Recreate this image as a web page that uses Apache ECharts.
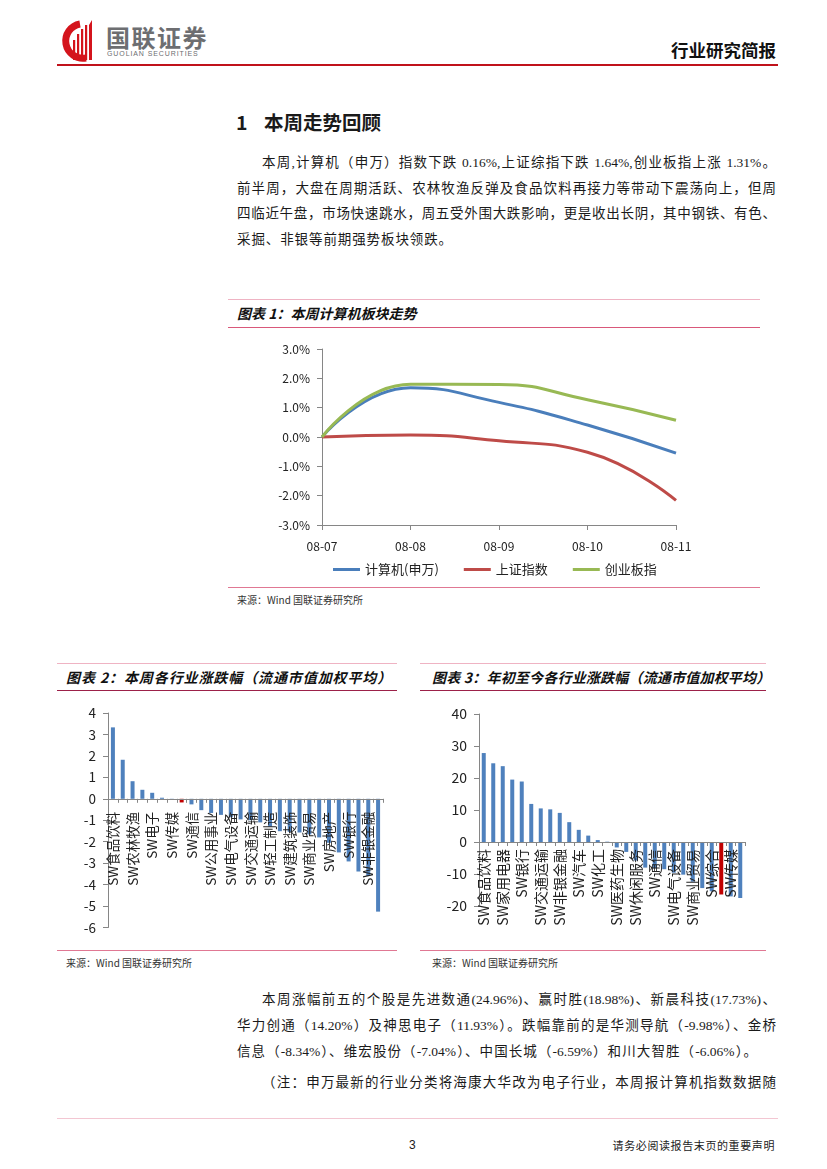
<!DOCTYPE html>
<html><head><meta charset="utf-8">
<script src="https://cdn.jsdelivr.net/npm/echarts/dist/echarts.min.js"></script>
<style>
html,body{margin:0;padding:0;background:#fff;}
#page{position:relative;width:827px;height:1169px;overflow:hidden;font-family:"Liberation Serif","Noto Sans CJK SC",serif;color:#1a1a1a;}
.abs{position:absolute;white-space:nowrap;}
.ln{position:absolute;}
.body{font-size:13.5px;height:20px;line-height:20px;text-align:justify;text-align-last:justify;}
.ttl{font-family:"Noto Sans CJK SC",sans-serif;font-weight:bold;font-style:italic;font-size:14px;height:20px;line-height:20px;color:#111;}
.src{font-family:"Noto Sans CJK SC",sans-serif;font-size:10px;height:14px;line-height:14px;color:#333;}
</style></head><body>
<div id="page">
  <!-- header -->
  <svg class="abs" style="left:56px;top:16px" width="170" height="50" viewBox="0 0 170 50">
    <path d="M24 8 A17 17 0 1 0 30 42" fill="none" stroke="#d4141c" stroke-width="7"/>
    <rect x="17" y="24" width="2.2" height="20" fill="#d4141c"/>
    <rect x="21" y="18" width="2.2" height="26" fill="#d4141c"/>
    <rect x="25" y="13" width="2.2" height="31" fill="#d4141c"/>
    <rect x="29" y="9" width="2.2" height="35" fill="#d4141c"/>
    <path d="M33 44 L33 9 L36 4 L36 44 Z" fill="#d4141c"/>
    <text x="50" y="31" font-family="Noto Sans CJK SC" font-weight="bold" font-size="24" fill="#6d6e71" letter-spacing="1.5">国联证券</text>
    <text x="51" y="40" font-family="Liberation Sans" font-size="7" fill="#6d6e71" letter-spacing="0.9">GUOLIAN SECURITIES</text>
  </svg>
  <div class="abs" style="right:51px;top:38px;font-family:'Noto Sans CJK SC';font-weight:bold;font-size:17.5px;line-height:24px;color:#111;">行业研究简报</div>
  <div class="ln" style="left:57px;top:64px;width:721px;height:2px;background:#c0121b;"></div>

  <!-- section heading -->
  <div class="abs" style="left:236px;top:110px;font-family:'Noto Sans CJK SC';font-weight:bold;font-size:19.5px;line-height:24px;">1</div>
  <div class="abs" style="left:264px;top:110px;font-family:'Noto Sans CJK SC';font-weight:bold;font-size:19.5px;line-height:24px;">本周走势回顾</div>

  <div class="abs body" style="left:262px;top:153px;width:514px;">本周,计算机（申万）指数下跌 0.16%,上证综指下跌 1.64%,创业板指上涨 1.31%。</div>
  <div class="abs body" style="left:237px;top:179px;width:539px;">前半周，大盘在周期活跃、农林牧渔反弹及食品饮料再接力等带动下震荡向上，但周</div>
  <div class="abs body" style="left:237px;top:204px;width:539px;">四临近午盘，市场快速跳水，周五受外围大跌影响，更是收出长阴，其中钢铁、有色、</div>
  <div class="abs" style="left:237px;top:230px;font-size:13.5px;line-height:20px;letter-spacing:0.9px;">采掘、非银等前期强势板块领跌。</div>

  <!-- chart 1 frame -->
  <div class="ln" style="left:228px;top:299px;width:532px;height:1px;background:#efb3c3;"></div>
  <div class="abs ttl" style="left:237px;top:303px;">图表 1：本周计算机板块走势</div>
  <div class="ln" style="left:228px;top:327px;width:532px;height:1px;background:#d9587a;"></div>
  <div id="c1" class="abs" style="left:228px;top:330px;width:532px;height:255px;"></div>
  <div class="ln" style="left:228px;top:587px;width:532px;height:1px;background:#e07893;"></div>
  <div class="abs src" style="left:237px;top:593px;">来源：Wind 国联证券研究所</div>

  <!-- chart 2 frame -->
  <div class="ln" style="left:57px;top:663px;width:340px;height:1px;background:#efb3c3;"></div>
  <div class="abs ttl" style="left:66px;top:667px;letter-spacing:0.9px;">图表 2：本周各行业涨跌幅（流通市值加权平均）</div>
  <div class="ln" style="left:57px;top:690px;width:340px;height:1px;background:#9c2149;"></div>
  <div id="c2" class="abs" style="left:57px;top:695px;width:340px;height:252px;"></div>
  <div class="ln" style="left:57px;top:950px;width:340px;height:1px;background:#e07893;"></div>
  <div class="abs src" style="left:66px;top:956px;">来源：Wind 国联证券研究所</div>

  <!-- chart 3 frame -->
  <div class="ln" style="left:420px;top:663px;width:346px;height:1px;background:#efb3c3;"></div>
  <div class="abs ttl" style="left:432px;top:667px;letter-spacing:0.2px;">图表 3：年初至今各行业涨跌幅（流通市值加权平均）</div>
  <div class="ln" style="left:420px;top:690px;width:346px;height:1px;background:#9c2149;"></div>
  <div id="c3" class="abs" style="left:420px;top:695px;width:346px;height:252px;"></div>
  <div class="ln" style="left:420px;top:950px;width:346px;height:1px;background:#e07893;"></div>
  <div class="abs src" style="left:432px;top:956px;">来源：Wind 国联证券研究所</div>

  <!-- paragraph 2 -->
  <div class="abs body" style="left:262px;top:990px;width:514px;">本周涨幅前五的个股是先进数通(24.96%)、赢时胜(18.98%)、新晨科技(17.73%)、</div>
  <div class="abs body" style="left:237px;top:1016px;width:539px;">华力创通（14.20%）及神思电子（11.93%）。跌幅靠前的是华测导航（-9.98%）、金桥</div>
  <div class="abs body" style="left:237px;top:1042px;width:520px;">信息（-8.34%）、维宏股份（-7.04%）、中国长城（-6.59%）和川大智胜（-6.06%）。</div>
  <div class="abs body" style="left:262px;top:1073px;width:514px;">（注：申万最新的行业分类将海康大华改为电子行业，本周报计算机指数数据随</div>

  <!-- footer -->
  <div class="ln" style="left:57px;top:1118px;width:721px;height:1px;background:#f3c6d2;"></div>
  <div class="abs" style="left:409px;top:1136px;font-family:'Liberation Sans';font-size:12px;line-height:18px;">3</div>
  <div class="abs" style="right:52px;top:1137px;font-family:'Noto Sans CJK SC';font-size:11px;line-height:16px;color:#222;letter-spacing:0.6px;">请务必阅读报告末页的重要声明</div>
</div>

<script>
// ---- Chart 1 data: weekly trend (%) ----
const dates1 = ['08-07','08-08','08-09','08-10','08-11'];
const seriesNames1 = ['计算机(申万)','上证指数','创业板指'];
const computerIdx = [0, 1.68, 1.18, 0.41, -0.55];
const shIdx = [0, 0.07, -0.13, -0.52, -2.16];
const gemIdx = [0, 1.8, 1.79, 1.27, 0.57];
const yTicks1 = [-3, 3, 1]; // min, max, interval

// ---- Chart 2 data: weekly industry change (%) ----
const cats2 = ['SW食品饮料','SW家用电器','SW农林牧渔','SW医药生物','SW电子','SW休闲服务','SW传媒','SW计算机','SW通信','SW汽车','SW公用事业','SW纺织服装','SW电气设备','SW化工','SW交通运输','SW机械设备','SW轻工制造','SW综合','SW建筑装饰','SW国防军工','SW商业贸易','SW建筑材料','SW房地产','SW采掘','SW银行','SW钢铁','SW非银金融','SW有色金属'];
const vals2 = [3.33,1.82,0.82,0.42,0.28,0.05,-0.01,-0.17,-0.26,-0.53,-0.66,-0.75,-0.86,-0.96,-1.0,-1.1,-1.3,-1.51,-1.54,-1.57,-1.66,-1.8,-2.05,-2.5,-2.92,-3.39,-3.6,-5.26];
const yTicks2 = [-6, 4, 1];

// ---- Chart 3 data: YTD industry change (%) ----
const cats3 = ['SW食品饮料','SW建筑材料','SW家用电器','SW钢铁','SW银行','SW有色金属','SW交通运输','SW电子','SW非银金融','SW采掘','SW汽车','SW建筑装饰','SW化工','SW房地产','SW医药生物','SW轻工制造','SW休闲服务','SW公用事业','SW通信','SW机械设备','SW电气设备','SW纺织服装','SW商业贸易','SW农林牧渔','SW综合','SW计算机','SW传媒','SW国防军工'];
const vals3 = [27.8,24.6,23.7,19.5,18.9,11.9,10.5,10.2,9.1,6.2,3.8,2.0,0.6,0.1,-1.7,-3.1,-5.8,-8.0,-8.2,-8.5,-9.6,-10.2,-12.4,-14.4,-15.4,-16.4,-17.0,-17.5];
const yTicks3 = [-20, 40, 10];

const highlightName = 'SW计算机';
const FONT = 'Noto Sans CJK SC';
const AX = '#868686';
const BLUE = '#4f81bd', RED = '#c00000';

const c1 = echarts.init(document.getElementById('c1'));
c1.setOption({
  animation:false,
  textStyle:{fontFamily:FONT},
  grid:{left:94, top:19, width:354, height:176, outerBoundsMode:'none', containLabel:false},
  legend:{left:100, top:228, icon:'rect', itemWidth:27, itemHeight:3, itemGap:25,
    textStyle:{fontSize:13, color:'#222', fontFamily:FONT}, data:seriesNames1},
  xAxis:{type:'category', data:dates1, boundaryGap:false,
    axisLine:{onZero:false, lineStyle:{color:AX}},
    axisTick:{show:true, length:5, lineStyle:{color:AX}},
    axisLabel:{color:'#222', fontSize:12, margin:15, fontFamily:FONT}},
  yAxis:{type:'value', min:yTicks1[0], max:yTicks1[1], interval:yTicks1[2],
    axisLine:{show:true, lineStyle:{color:AX}},
    axisTick:{show:true, length:5, lineStyle:{color:AX}},
    splitLine:{show:false},
    axisLabel:{color:'#222', fontSize:12, margin:12, fontFamily:FONT, formatter:v=>v.toFixed(1)+'%'}},
  series:[
    {type:'line', name:seriesNames1[0], data:computerIdx, smooth:true, symbol:'none', lineStyle:{width:3, color:'#4a7ebb'}, itemStyle:{color:'#4a7ebb'}},
    {type:'line', name:seriesNames1[1], data:shIdx, smooth:true, symbol:'none', lineStyle:{width:3, color:'#be4b48'}, itemStyle:{color:'#be4b48'}},
    {type:'line', name:seriesNames1[2], data:gemIdx, smooth:true, symbol:'none', lineStyle:{width:3, color:'#98b954'}, itemStyle:{color:'#98b954'}}
  ]
});

function barOption(cats, vals, ticks, grid, labelSize, yLabelSize, margin){
  const hi = cats.indexOf(highlightName);
  // place the category axis on the zero line of the value axis
  const zeroOffset = -grid.height * (0 - ticks[0]) / (ticks[1] - ticks[0]);
  return {
    animation:false,
    textStyle:{fontFamily:FONT},
    grid:Object.assign({outerBoundsMode:'none', containLabel:false}, grid),
    xAxis:{type:'category', data:cats, z:5, position:'bottom', offset:zeroOffset,
      axisLine:{onZero:false, lineStyle:{color:AX}},
      axisTick:{show:true, interval:0, length:4, lineStyle:{color:AX}},
      axisLabel:{interval:1, rotate:90, fontSize:labelSize, color:'#222', margin:margin, fontFamily:FONT}},
    yAxis:{type:'value', min:ticks[0], max:ticks[1], interval:ticks[2],
      axisLine:{show:true, lineStyle:{color:AX}},
      axisTick:{show:true, length:5, lineStyle:{color:AX}},
      splitLine:{show:false},
      axisLabel:{color:'#222', fontSize:yLabelSize, margin:12, fontFamily:FONT}},
    series:[{type:'bar', barWidth:4, z:2,
      data:vals.map((v,i)=> i===hi ? {value:v, itemStyle:{color:RED}} : v),
      itemStyle:{color:BLUE}}]
  };
}

const c2 = echarts.init(document.getElementById('c2'));
c2.setOption(barOption(cats2, vals2, yTicks2, {left:51, top:18, width:275, height:214.5}, 13.5, 13.5, 13));
const c3 = echarts.init(document.getElementById('c3'));
c3.setOption(barOption(cats3, vals3, yTicks3, {left:59, top:19, width:266, height:192}, 14, 14, 7));
</script>
</body></html>
